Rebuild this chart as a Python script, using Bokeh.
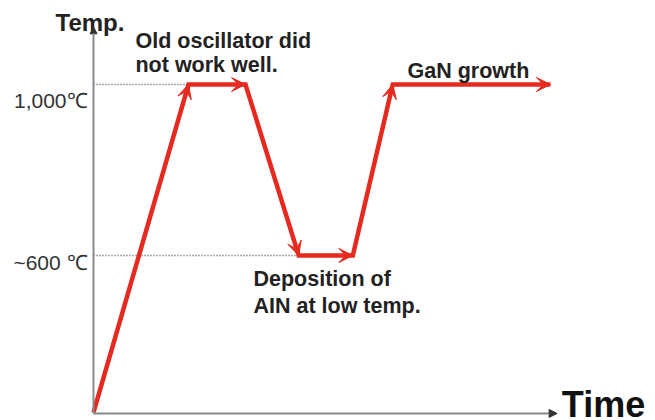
from bokeh.plotting import figure
from bokeh.models import Arrow, VeeHead, NormalHead, Range1d
from bokeh.core.properties import value
from bokeh.embed import file_html
from bokeh.resources import INLINE

# Process profile (time in arbitrary units, temperature in deg C)
times = [0, 10, 16, 21.6, 27.3, 31.5, 48.1]
temps = [233, 1000, 1000, 600, 600, 1000, 1000]

tick_values = [1000, 600]
tick_labels = ["1,000\u2103", "~600 \u2103"]
tick_label_dy = [16, 7]

axis_t0, axis_t1 = 0, 48.8
axis_T0, axis_T1 = 230.5, 1135

RED = "#e62a1f"
FONT = value("Liberation Sans")

p = figure(width=655, height=420,
           x_range=Range1d(-93 / 9.5, 562 / 9.5),
           y_range=Range1d(214.0, 1196.5),
           output_backend="svg", toolbar_location=None,
           x_axis_location=None, y_axis_location=None,
           min_border=0, outline_line_color=None)
p.grid.visible = False
p.background_fill_color = "white"

# axes as arrows
p.add_layout(Arrow(x_start=axis_t0, y_start=axis_T0, x_end=axis_t1, y_end=axis_T0,
                   line_color="#8a8a8a", line_width=2,
                   end=NormalHead(size=8, fill_color="#333333", line_color="#333333", line_width=1)))
p.add_layout(Arrow(x_start=axis_t0, y_start=axis_T0, x_end=axis_t0, y_end=axis_T1,
                   line_color="#8a8a8a", line_width=2,
                   end=NormalHead(size=7, fill_color="#333333", line_color="#333333", line_width=1)))

# dotted guide lines from the axis to the plateaus
p.line([axis_t0, times[1]], [temps[1], temps[1]], line_color="#555555", line_width=1.3, line_dash="1 2")
p.line([axis_t0, times[3]], [temps[3], temps[3]], line_color="#555555", line_width=1.3, line_dash="1 2")

# red process path
p.line(times, temps, line_color=RED, line_width=4.5, line_join="miter")
for i in range(len(times) - 1):
    p.add_layout(Arrow(x_start=times[i], y_start=temps[i], x_end=times[i + 1], y_end=temps[i + 1],
                       line_alpha=0,
                       end=VeeHead(size=14, fill_color=RED, line_color=RED, line_width=1)))

# tick labels
p.text(x=[-0.63] * len(tick_values), y=tick_values, text=tick_labels, y_offset=tick_label_dy,
       text_align="right", text_baseline="middle", text_font=FONT,
       text_font_size="21px", text_color="#333333")

# annotations
ann_x = [4.42, 4.42, 33.05, 16.84, 16.84]
ann_y = [1091, 1033, 1019, 534, 471]
ann_text = ["Old oscillator did", "not work well.", "GaN growth", "Deposition of", "AIN at low temp."]
p.text(x=ann_x, y=ann_y, text=ann_text, y_offset=-5, text_align="left", text_baseline="alphabetic",
       text_font=FONT, text_font_style="bold", text_font_size="21.5px", text_color="#222222")

# axis titles
p.text(x=[-4.0], y=[1133], text=["Temp."], y_offset=-5, text_align="left", text_baseline="alphabetic",
       text_font=FONT, text_font_style="bold", text_font_size="24px", text_color="#222222")
p.text(x=[49.3], y=[228], text=["Time"], y_offset=-10, text_align="left", text_baseline="alphabetic",
       text_font=FONT, text_font_style="bold", text_font_size="36px", text_color="#111111")

open("out.html", "w").write(file_html(p, INLINE))
